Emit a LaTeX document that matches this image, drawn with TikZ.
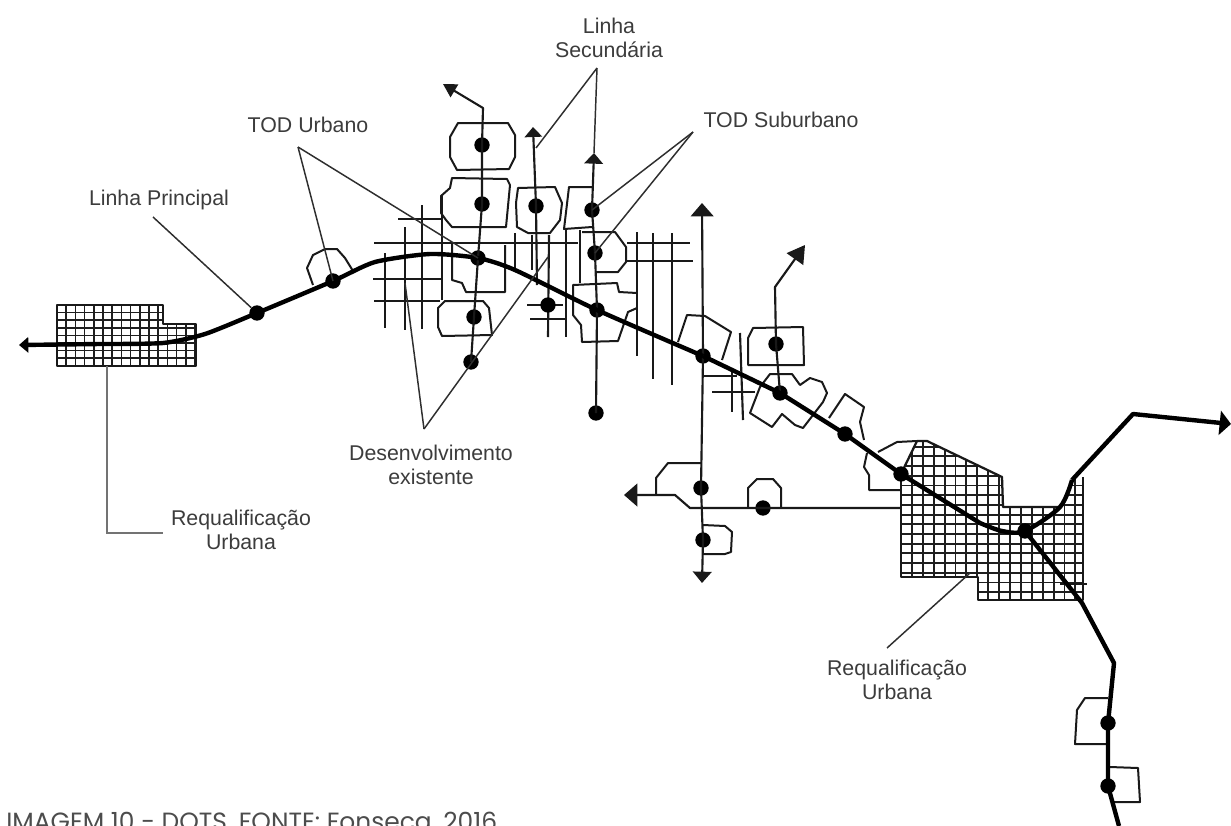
\documentclass[tikz,border=0pt]{standalone}
\usepackage{fontspec}
\setmainfont{Liberation Sans}
\newfontfamily\capfont{Poppins}
\usetikzlibrary{arrows.meta}
\definecolor{lbl}{HTML}{3C3C3C}
\definecolor{lead}{HTML}{2E2E2E}
\definecolor{gridc}{HTML}{1E1E1E}
\tikzset{
  station/.style={circle,fill=black,inner sep=0pt,minimum size=11.5pt},
  mainline/.style={line width=3.3pt,black,line join=round},
  secline/.style={line width=1.6pt,black!90,line join=round},
  street/.style={line width=1.6pt,black!90},
  parcel/.style={line width=1.5pt,black!90,line join=round},
  leader/.style={line width=1.1pt,lead},
  label/.style={font=\fontsize{16}{18}\selectfont,text=lbl,align=center,inner sep=0pt},
  gridl/.style={line width=1.45pt,gridc},
}
\begin{document}
\begin{tikzpicture}[x=0.75pt,y=-0.75pt]
\useasboundingbox (0,0) rectangle (1231,825);
\fill[white] (0,0) rectangle (1231,825);

% --- hatched redevelopment areas
\begin{scope}
  \clip (57,305) -- (163,305) -- (163,324) -- (196,324) -- (196,366) -- (57,366) -- cycle;
  \foreach \gx in {0,...,16} \draw[gridl,line width=1.15pt] ({57+\gx*9.2},300) -- ({57+\gx*9.2},370);
  \foreach \gy in {0,...,8} \draw[gridl,line width=1.15pt] (50,{305+\gy*7.6}) -- (200,{305+\gy*7.6});
\end{scope}
\draw[parcel,line width=1.2pt] (57,305) -- (163,305) -- (163,324) -- (196,324) -- (196,366) -- (57,366) -- cycle;
\begin{scope}
  \clip (901,474) -- (917,441) -- (927,441) -- (1002,477) -- (1003,507) -- (1060,507) -- (1072,478) -- (1083,477) -- (1083,600) -- (978,600) -- (978,577) -- (901,577) -- cycle;
  \foreach \gx in {0,...,17} \draw[gridl] ({901+\gx*10.9},435) -- ({901+\gx*10.9},605);
  \foreach \gy in {0,...,17} \draw[gridl] (895,{437+\gy*9.7}) -- (1090,{437+\gy*9.7});
\end{scope}
\draw[parcel,line width=1.7pt] (901,474) -- (917,441) -- (927,441) -- (1002,477) -- (1003,507) -- (1060,507);
\draw[parcel,line width=1.7pt] (1083,477) -- (1083,600) -- (978,600) -- (978,577) -- (901,577) -- (901,474);
\draw[parcel] (1060,584) -- (1087,584);

% --- street grids
\foreach \ax/\ay/\bx/\by in {
  398/219/442/219, 374/243/578/243, 373/279/442/279, 374/301/440/301,
  527/305/563/305, 530/319/567/319, 627/243/690/243, 627/261/693/261,
  385/253/385/328, 405/227/405/330, 422/205/422/329, 442/196/442/300,
  515/233/515/270, 532/235/532/270, 549/235/548/337, 566/230/566/337,
  580/230/580/283, 637/232/637/356, 653/233/653/379, 672/233/672/385,
  704/376/737/376, 712/392/755/392, 732/372/732/412, 740/333/743/420}
  \draw[street] (\ax,\ay) -- (\bx,\by);

% --- station-area outlines
\draw[parcel] (458,123) -- (508,123) -- (515,135) -- (515,157) -- (509,169) -- (457,170) -- (450,157) -- (450,137) -- cycle;
\draw[parcel] (452,178) -- (507,179) -- (510,185) -- (506,227) -- (452,227) -- (446,220) -- (441,213) -- (441,196) -- (450,188) -- cycle;
\draw[parcel] (452,243) -- (452,280) -- (462,283) -- (466,292) -- (505,292) -- (505,245);
\draw[parcel] (445,301) -- (483,301) -- (489,308) -- (492,335) -- (442,336) -- (438,327) -- (438,308) -- cycle;
\draw[parcel] (518,188) -- (555,187) -- (562,203) -- (560,220) -- (550,233) -- (528,233) -- (517,227) -- (516,203) -- cycle;
\draw[parcel] (592,187) -- (569,187) -- (564,229) -- (592,227);
\draw[parcel] (582,232) -- (615,232) -- (626,247) -- (626,262) -- (618,272) -- (595,272);
\draw[parcel] (637,293) -- (619,292) -- (617,283) -- (573,285) -- (573,315) -- (581,325) -- (582,342) -- (618,341) -- (628,312) -- (637,308);
\draw[parcel] (678,342) -- (687,315) -- (705,316) -- (731,332) -- (722,360);
\draw[parcel] (753,328) -- (803,327) -- (804,365) -- (748,365) -- (748,338) -- cycle;
\draw[parcel] (760,387) -- (770,374) -- (792,374) -- (800,385) -- (810,378) -- (822,382) -- (827,393) -- (823,402) -- (803,428) -- (795,425) -- (782,414) -- (772,427) -- (750,413) -- cycle;
\draw[parcel] (829,418) -- (845,394) -- (864,407) -- (860,422) -- (864,440);
\draw[parcel] (878,452) -- (897,442) -- (917,441);
\draw[parcel] (867,453) -- (864,467) -- (869,475) -- (869,490) -- (901,490);
\draw[parcel] (656,495) -- (656,478) -- (668,463) -- (701,463);
\draw[parcel] (748,507) -- (748,488) -- (757,479) -- (773,479) -- (781,488) -- (781,507);
\draw[parcel] (703,525) -- (725,526) -- (732,532) -- (731,552) -- (725,554) -- (703,554);
\draw[parcel] (1108,698) -- (1085,698) -- (1077,710) -- (1075,744) -- (1108,744);
\draw[parcel] (1110,767) -- (1138,768) -- (1140,802) -- (1112,802);
\draw[parcel] (313,285) -- (307,268) -- (313,255) -- (325,249) -- (337,249) -- (345,258) -- (353,271);

% --- stations
\node[station] (s1) at (257,313) {};
\node[station] (s2) at (333,281) {};
\node[station] (s3) at (478,258) {};
\node[station] (s4) at (597,310) {};
\node[station] (s5) at (703,356) {};
\node[station] (s6) at (780,393) {};
\node[station] (s7) at (845,434) {};
\node[station] (s8) at (901,474) {};
\node[station] (s9) at (1025,531) {};
\node[station] (s10) at (1108,723) {};
\node[station] (s11) at (1108,786) {};
\node[station] (a1) at (482,145) {};
\node[station] (a2) at (482,204) {};
\node[station] (a3) at (474,317) {};
\node[station] (a4) at (471,362) {};
\node[station] (b1) at (536,206) {};
\node[station] (b2) at (548,305) {};
\node[station] (c1) at (592,210) {};
\node[station] (c2) at (595,253) {};
\node[station] (c3) at (596,413) {};
\node[station] (d1) at (701,488) {};
\node[station] (d2) at (703,540) {};
\node[station] (e1) at (776,344) {};
\node[station] (f1) at (763,508) {};

% --- free ends
\coordinate (wEnd) at (19,345);
\coordinate (m1) at (100,344);
\coordinate (m1b) at (163,343);
\coordinate (m2) at (205,334);
\coordinate (m3) at (375,262);
\coordinate (m4) at (430,254);
\coordinate (m5) at (515,270);
\coordinate (m6) at (1002,531);
\coordinate (m7) at (1060,507);
\coordinate (m8) at (1072,480);
\coordinate (m9) at (1133,414);
\coordinate (eEnd) at (1231,424);
\coordinate (m10) at (1114,663);
\coordinate (sEnd) at (1119,826);
\coordinate (aTop) at (483,108);
\coordinate (aTip) at (443,84);
\coordinate (bTip) at (533,127);
\coordinate (cTip) at (594,153);
\coordinate (dTip) at (702,203);
\coordinate (dBot) at (702,583);
\coordinate (eBend) at (775,287);
\coordinate (eTip) at (805,245);
\coordinate (fTip) at (624,495);
\coordinate (f2) at (675,495);
\coordinate (f3) at (690,508);
\coordinate (f4) at (900,508);

% --- secondary lines
\draw[secline,-{Triangle[width=11pt,length=10pt]}] (a1.center) -- (aTop) -- (aTip);
\draw[secline] (a1.center) -- (a2.center) -- (s3.center) -- (a3.center) -- (a4.center);
\draw[secline,-{Triangle[width=13pt,length=7.5pt]}] (b1.center) -- (bTip);
\draw[secline] (b1.center) -- (537,285);
\draw[secline,{Triangle[width=14pt,length=8pt]}-] (cTip) -- (c1.center);
\draw[secline] (c1.center) -- (c2.center) -- (s4.center) -- (c3.center);
\draw[secline,-{Triangle[width=17pt,length=10pt]}] (s5.center) -- (dTip);
\draw[secline] (s5.center) -- (d1.center) -- (d2.center);
\draw[secline,-{Triangle[width=14pt,length=8.5pt]}] (d2.center) -- (dBot);
\draw[secline,-{Triangle[width=15pt,length=13pt]}] (e1.center) -- (eBend) -- (eTip);
\draw[secline] (e1.center) -- (s6.center);
\draw[secline,-{Triangle[width=17pt,length=10pt]}] (f4) -- (f1.center) -- (f3) -- (f2) -- (fTip);

% --- main line
\draw[mainline] plot[smooth,tension=0.4] coordinates {(m1) (m1b) (m2) (s1) (s2) (m3) (m4) (s3) (m5) (s4) (s5)};
\draw[mainline] (s5.center) -- (s6.center) -- (s7.center) -- (s8.center) -- (980,523);
\draw[mainline] plot[smooth,tension=0.5] coordinates {(980,523) (m6) (s9) (m7) (m8)};
\draw[mainline,-{Triangle[width=18pt,length=8.5pt]}] (m8) -- (m9) -- (eEnd);
\draw[mainline] (s9.center) -- (1082,603) -- (m10) -- (s10.center) -- (s11.center) -- (sEnd);
\draw[mainline,-{Triangle[width=11.5pt,length=7pt]}] (m1) -- (wEnd);

% --- labels
\node[label] (lPrin) at (159,200) {Linha Principal};
\node[label] (lUrb) at (308,125) {TOD Urbano};
\node[label] (lSec) at (609,38) {Linha\\Secundária};
\node[label] (lSub) at (781,120) {TOD Suburbano};
\node[label] (lDes) at (431,465) {Desenvolvimento\\existente};
\node[label] (lReqA) at (241,530) {Requalificação\\Urbana};
\node[label] (lReqB) at (897,680) {Requalificação\\Urbana};

% --- leaders
\coordinate (pPrin) at (153,217);
\coordinate (pUrb) at (298,147);
\coordinate (pSec) at (597,68);
\coordinate (pSecB) at (536,148);
\coordinate (pSub) at (693,132);
\coordinate (pDes) at (424,429);
\coordinate (pDesA) at (405,283);
\coordinate (pDesB) at (548,257);
\coordinate (pRa) at (107,366);
\coordinate (pRb) at (107,533);
\coordinate (pRc) at (163,533);
\coordinate (pR2a) at (970,573);
\coordinate (pR2b) at (887,648);
\draw[leader] (pPrin) -- (s1);
\draw[leader] (pUrb) -- (s2.center);
\draw[leader] (pUrb) -- (s3.center);
\draw[leader] (pSec) -- (pSecB);
\draw[leader] (pSec) -- (cTip);
\draw[leader] (pSub) -- (c1.center);
\draw[leader] (pSub) -- (c2.center);
\draw[leader] (pDes) -- (pDesA);
\draw[leader] (pDes) -- (pDesB);
\draw[leader,black!55,line width=1.3pt] (pRa) -- (pRb) -- (pRc);
\draw[leader] (pR2a) -- (pR2b);

% --- caption
\node[anchor=base west,inner sep=0pt,font=\capfont\fontsize{18.7}{20}\selectfont,text=black!70] (cap) at (6,830) {IMAGEM 10 - DOTS. FONTE: Fonseca, 2016};
\end{tikzpicture}
\end{document}
